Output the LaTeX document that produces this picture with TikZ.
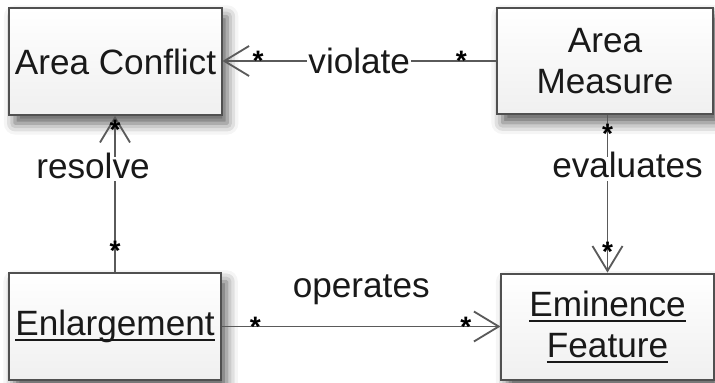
\documentclass[tikz,border=0pt]{standalone}
\usepackage{fontspec}
\setmainfont{Liberation Sans}
\usetikzlibrary{arrows.meta,shadows.blur}
\definecolor{boxline}{HTML}{505050}
\definecolor{assocline}{HTML}{5a5a5a}
\newcommand\ulname[1]{\setbox0\hbox{#1}\rlap{\rule[-0.15em]{\wd0}{0.06em}}\box0}
\tikzset{
 cls/.style={draw=boxline,line width=1.4pt,top color=white,bottom color=gray!12,minimum width=5.3cm,minimum height=2.67cm,align=center,font=\fontsize{25}{29}\selectfont,text=black!90,
  blur shadow={shadow xshift=4pt,shadow yshift=-6pt,shadow blur radius=8pt,shadow opacity=65}},
 assoc/.style={draw=assocline,line width=1.1pt},
 nav/.style={assoc,-{Straight Barb[length=0.62cm,width=0.75cm,line width=1.3pt]}},
 lbl/.style={font=\fontsize{25}{29}\selectfont,text=black!90,fill=white,inner xsep=1pt,inner ysep=2pt},
 vlbl/.style={lbl,text height=1.3em,text depth=0pt},
 mult/.style={font=\fontsize{20}{20}\bfseries,inner sep=0pt},
 vmult/.style={mult,yshift=-3pt}
}
\begin{document}
\begin{tikzpicture}[x=0.025cm,y=0.025cm]
\useasboundingbox(0,0)rectangle(715,382);
\node[cls](ac)at(115.5,320.5){Area Conflict};\node[cls,minimum width=5.4cm](am)at(605,321){Area\\Measure};
\node[cls](en)at(115,55.5){\ulname{Enlargement}};\node[cls](ef)at(607.5,55){\ulname{Eminence}\\\ulname{Feature}};
% associations
\draw[nav](am.west)--node[lbl]{violate}node[mult,pos=.127]{*}node[mult,pos=.87]{*}(am.west-|ac.east);
\draw[nav](en.north)--node[vlbl,pos=.66,xshift=-0.55cm]{resolve}node[vmult,pos=.165]{*}node[vmult,pos=.94]{*}(en.north|-ac.south);
\draw[nav](am.south-|ef.north)--node[vlbl,pos=.34,xshift=0.5cm]{evaluates}node[vmult,pos=.09]{*}node[vmult,pos=.84]{*}(ef.north);
\draw[nav](en.east)--node[lbl,fill=none,yshift=0.92cm]{operates}node[mult,pos=.12]{*}node[mult,pos=.876]{*}(en.east-|ef.west);
\end{tikzpicture}
\end{document}
